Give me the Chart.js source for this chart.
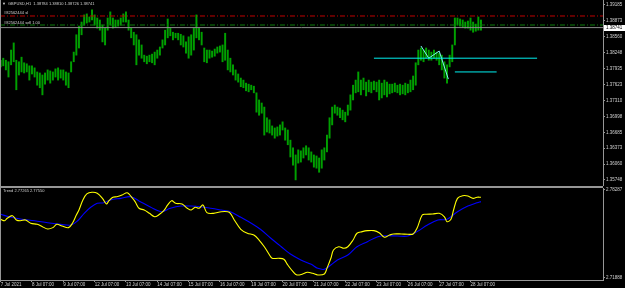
<!DOCTYPE html>
<html>
<head>
<meta charset="utf-8">
<script src="https://cdn.jsdelivr.net/npm/chart.js@4.4.1/dist/chart.umd.min.js"></script>
<style>
  html, body { margin: 0; padding: 0; background: #000; }
  #wrap { position: relative; width: 625px; height: 288px; overflow: hidden; background: #000; }
  canvas { position: absolute; left: 0; display: block; }
  #priceChart { top: 0; }
  #trendChart { top: 186px; }
</style>
</head>
<body>
<div id="wrap">
  <canvas id="priceChart" width="625" height="186"></canvas>
  <canvas id="trendChart" width="625" height="102"></canvas>
</div>
<script>
// GBPUSD H1, one range per 2 hours, starting 7 Jul 2021 07:00
const BAR_STEP_HOURS = 2;

const highs = [
  1.3810, 1.3814, 1.3810, 1.3807, 1.3830, 1.3844, 1.3810, 1.3807, 1.3816, 1.3805,
  1.3803, 1.3799, 1.3799, 1.3795, 1.3787, 1.3785, 1.3781, 1.3785, 1.3791, 1.3789,
  1.3787, 1.3793, 1.3795, 1.3791, 1.3791, 1.3787, 1.3785, 1.3807, 1.3826, 1.3860,
  1.3877, 1.3885, 1.3899, 1.3901, 1.3895, 1.3909, 1.3899, 1.3893, 1.3889, 1.3879,
  1.3873, 1.3893, 1.3905, 1.3893, 1.3889, 1.3889, 1.3893, 1.3901, 1.3905, 1.3889,
  1.3873, 1.3865, 1.3860, 1.3850, 1.3840, 1.3820, 1.3818, 1.3820, 1.3822, 1.3826,
  1.3830, 1.3836, 1.3850, 1.3869, 1.3891, 1.3873, 1.3865, 1.3863, 1.3863, 1.3861,
  1.3858, 1.3846, 1.3856, 1.3860, 1.3873, 1.3899, 1.3873, 1.3865, 1.3834, 1.3830,
  1.3830, 1.3828, 1.3832, 1.3836, 1.3838, 1.3840, 1.3863, 1.3830, 1.3814, 1.3801,
  1.3791, 1.3783, 1.3775, 1.3771, 1.3765, 1.3763, 1.3761, 1.3759, 1.3746, 1.3732,
  1.3726, 1.3718, 1.3697, 1.3693, 1.3681, 1.3677, 1.3679, 1.3683, 1.3689, 1.3677,
  1.3673, 1.3653, 1.3638, 1.3624, 1.3634, 1.3632, 1.3638, 1.3642, 1.3638, 1.3630,
  1.3624, 1.3622, 1.3618, 1.3634, 1.3638, 1.3663, 1.3697, 1.3718, 1.3722, 1.3718,
  1.3716, 1.3712, 1.3708, 1.3722, 1.3742, 1.3761, 1.3771, 1.3787, 1.3771, 1.3775,
  1.3767, 1.3771, 1.3767, 1.3769, 1.3767, 1.3771, 1.3765, 1.3771, 1.3767, 1.3763,
  1.3763, 1.3765, 1.3761, 1.3763, 1.3761, 1.3765, 1.3763, 1.3771, 1.3779, 1.3805,
  1.3830, 1.3834, 1.3830, 1.3834, 1.3830, 1.3826, 1.3830, 1.3826, 1.3824, 1.3820,
  1.3807, 1.3801, 1.3820, 1.3840, 1.3893, 1.3893, 1.3891, 1.3889, 1.3885, 1.3887,
  1.3893, 1.3885, 1.3881, 1.3895, 1.3889
];
const lows = [
  1.3797, 1.3799, 1.3791, 1.3777, 1.3801, 1.3807, 1.3752, 1.3781, 1.3787, 1.3785,
  1.3787, 1.3771, 1.3783, 1.3777, 1.3761, 1.3756, 1.3742, 1.3763, 1.3771, 1.3765,
  1.3771, 1.3777, 1.3771, 1.3775, 1.3771, 1.3761, 1.3756, 1.3787, 1.3807, 1.3820,
  1.3834, 1.3860, 1.3879, 1.3883, 1.3885, 1.3889, 1.3879, 1.3873, 1.3869, 1.3846,
  1.3840, 1.3869, 1.3879, 1.3873, 1.3875, 1.3877, 1.3879, 1.3885, 1.3885, 1.3869,
  1.3854, 1.3840, 1.3801, 1.3820, 1.3814, 1.3807, 1.3803, 1.3807, 1.3805, 1.3801,
  1.3814, 1.3820, 1.3834, 1.3840, 1.3854, 1.3858, 1.3850, 1.3854, 1.3850, 1.3840,
  1.3836, 1.3824, 1.3814, 1.3820, 1.3830, 1.3854, 1.3850, 1.3840, 1.3807, 1.3805,
  1.3814, 1.3816, 1.3818, 1.3824, 1.3826, 1.3807, 1.3810, 1.3791, 1.3787, 1.3781,
  1.3771, 1.3767, 1.3758, 1.3756, 1.3750, 1.3748, 1.3752, 1.3746, 1.3708, 1.3702,
  1.3706, 1.3663, 1.3669, 1.3667, 1.3663, 1.3657, 1.3661, 1.3663, 1.3673, 1.3653,
  1.3644, 1.3620, 1.3604, 1.3575, 1.3608, 1.3610, 1.3618, 1.3624, 1.3614, 1.3610,
  1.3600, 1.3598, 1.3590, 1.3598, 1.3614, 1.3630, 1.3657, 1.3683, 1.3706, 1.3702,
  1.3697, 1.3693, 1.3689, 1.3702, 1.3712, 1.3732, 1.3746, 1.3748, 1.3742, 1.3752,
  1.3740, 1.3748, 1.3746, 1.3752, 1.3748, 1.3732, 1.3736, 1.3742, 1.3738, 1.3744,
  1.3746, 1.3748, 1.3746, 1.3742, 1.3744, 1.3742, 1.3746, 1.3748, 1.3752, 1.3761,
  1.3801, 1.3810, 1.3807, 1.3814, 1.3810, 1.3810, 1.3814, 1.3810, 1.3801, 1.3791,
  1.3775, 1.3765, 1.3797, 1.3807, 1.3840, 1.3879, 1.3877, 1.3875, 1.3873, 1.3873,
  1.3869, 1.3865, 1.3867, 1.3869, 1.3869
];

// Trend indicator, two lines (hours since 7 Jul 07:00, value)
const yellowHours = [0, 3, 5, 9, 12, 15, 19, 23, 28, 32, 36, 40, 43, 47, 52, 55, 58, 60, 63, 66,
  70, 74, 78, 81, 83, 86, 89, 93, 97, 100, 103, 106, 110, 114, 118, 121, 125, 128, 131, 134,
  139, 143, 146, 149, 152, 155, 158, 163, 169, 174, 176, 179, 184, 189, 194, 198, 202, 206, 208, 213,
  217, 220, 224, 227, 231, 235, 239, 243, 248, 250, 253, 255, 259, 263, 266, 270, 273, 277, 281, 286,
  290, 294, 298, 301, 307, 312, 316, 319, 323, 326, 331, 336, 340, 342, 345, 347, 350, 354, 358, 362,
  365, 368];
const yellowValues = [2.7616, 2.7605, 2.7623, 2.7642, 2.7611, 2.7605, 2.7611, 2.7587, 2.7579, 2.7562,
  2.7545, 2.7555, 2.7579, 2.7567, 2.7555, 2.7587, 2.7647, 2.7683, 2.7756, 2.7800,
  2.7812, 2.7805, 2.7768, 2.7727, 2.7751, 2.7776, 2.7780, 2.7792, 2.7809, 2.7780,
  2.7744, 2.7696, 2.7683, 2.7659, 2.7634, 2.7647, 2.7678, 2.7720, 2.7751, 2.7732,
  2.7727, 2.7696, 2.7683, 2.7703, 2.7696, 2.7720, 2.7664, 2.7659, 2.7671, 2.7671,
  2.7659, 2.7611, 2.7543, 2.7514, 2.7501, 2.7465, 2.7416, 2.7356, 2.7332, 2.7332,
  2.7325, 2.7283, 2.7235, 2.7211, 2.7216, 2.7230, 2.7223, 2.7211, 2.7218, 2.7259,
  2.7332, 2.7392, 2.7416, 2.7405, 2.7416, 2.7465, 2.7514, 2.7526, 2.7533, 2.7533,
  2.7518, 2.7485, 2.7501, 2.7509, 2.7509, 2.7507, 2.7509, 2.7550, 2.7647, 2.7652,
  2.7654, 2.7659, 2.7634, 2.7598, 2.7616, 2.7683, 2.7768, 2.7787, 2.7785, 2.7768,
  2.7776, 2.7776];
const blueHours = [0, 8, 15, 26, 36, 46, 54, 59, 64, 69, 74, 79, 84, 92, 100, 107, 115, 123, 130, 138,
  146, 153, 161, 169, 176, 184, 192, 199, 207, 215, 222, 230, 238, 243, 248, 253, 258, 266, 273, 281,
  289, 296, 304, 312, 319, 327, 335, 342, 350, 358, 365, 368];
const blueValues = [2.7652, 2.7630, 2.7618, 2.7605, 2.7591, 2.7579, 2.7574, 2.7605, 2.7659, 2.7703,
  2.7732, 2.7736, 2.7756, 2.7768, 2.7780, 2.7744, 2.7703, 2.7671, 2.7696, 2.7712,
  2.7712, 2.7707, 2.7696, 2.7683, 2.7671, 2.7630, 2.7587, 2.7543, 2.7478, 2.7416,
  2.7363, 2.7320, 2.7288, 2.7259, 2.7252, 2.7283, 2.7320, 2.7356, 2.7416, 2.7453,
  2.7489, 2.7496, 2.7494, 2.7494, 2.7526, 2.7574, 2.7611, 2.7616, 2.7671, 2.7712,
  2.7736, 2.7744];

// objects on the chart: [hour, price]
const cyanLongLine = [[286, 1.3814], [411, 1.3814]];
const cyanShortLine = [[348, 1.3787], [380, 1.3787]];
const cyanZigzag = [[322, 1.3838], [328, 1.3814], [336, 1.3828], [343, 1.3773]];

const stopLossPrice = 1.38969;
const entryPrice = 1.38792;
const bidPrice = 1.38741;

// axes
const tickHours = [0, 24, 48, 72, 96, 120, 144, 168, 192, 216, 240, 264, 288, 312, 336, 360];
const timeLabels = ['7 Jul 2021', '8 Jul 07:00', '9 Jul 07:00', '12 Jul 07:00', '13 Jul 07:00',
  '14 Jul 07:00', '15 Jul 07:00', '16 Jul 07:00', '19 Jul 07:00', '20 Jul 07:00', '21 Jul 07:00',
  '22 Jul 07:00', '23 Jul 07:00', '26 Jul 07:00', '27 Jul 07:00', '28 Jul 07:00'];
const priceTicks = [1.39185, 1.38873, 1.38560, 1.38248, 1.37935, 1.37623, 1.37310,
  1.36998, 1.36685, 1.36373, 1.36060, 1.35748];
const trendTicks = [2.78287, 2.71888];

const HOUR_MIN = -0.5, HOUR_MAX = 461.5;
const PRICE_MIN = 1.35630, PRICE_MAX = 1.39283;
const TREND_MIN = 2.71742, TREND_MAX = 2.78432;

const FRAME = '#969696';
const TEXT = '#d0d0d0';
const FONT = '"Liberation Sans", "DejaVu Sans", sans-serif';

const toPoints = pairs => pairs.map(p => ({ x: p[0], y: p[1] }));

function hLine(price, color, dash) {
  return {
    type: 'line',
    data: [{ x: HOUR_MIN, y: price }, { x: HOUR_MAX, y: price }],
    borderColor: color, borderWidth: 1, borderDash: dash || [],
    pointRadius: 0, order: 0
  };
}
function objLine(pairs, color) {
  return {
    type: 'line', data: toPoints(pairs), borderColor: color, borderWidth: 1,
    pointRadius: 0, tension: 0, order: 0
  };
}

const mainDecor = {
  id: 'mainDecor',
  afterDraw(chart) {
    const { ctx, chartArea: a } = chart;
    const y = chart.scales.y;
    ctx.save();
    ctx.fillStyle = FRAME;
    ctx.fillRect(0, 0, 1, a.bottom);

    ctx.fillStyle = TEXT;
    ctx.textBaseline = 'middle';
    ctx.font = '4px ' + FONT;
    ctx.fillText('\u25BC', 2, 4);
    ctx.fillText('GBPUSD,H1  1.38784 1.38810 1.38726 1.38741', 8, 4);
    ctx.fillText('#82562444 sl', 4, 13);
    ctx.fillText('#82562444 sell 1.00', 4, 22.5);

    const py = y.getPixelForValue(bidPrice);
    ctx.fillStyle = '#ffffff';
    ctx.fillRect(a.right + 1, Math.round(py) - 3, 21, 6);
    ctx.fillStyle = '#000000';
    ctx.font = '4.5px ' + FONT;
    ctx.fillText(bidPrice.toFixed(5), a.right + 3, Math.round(py));
    ctx.restore();
  }
};

const trendDecor = {
  id: 'trendDecor',
  afterDraw(chart) {
    const { ctx, chartArea: a } = chart;
    ctx.save();
    ctx.fillStyle = FRAME;
    ctx.fillRect(0, 0, a.right, 2);
    ctx.fillRect(0, 0, 1, a.bottom);
    ctx.fillStyle = TEXT;
    ctx.textBaseline = 'middle';
    ctx.font = '4px ' + FONT;
    ctx.fillText('Trend 2.77265 2.77550', 3, 5);
    ctx.restore();
  }
};

const yAxisCommon = {
  position: 'right',
  grid: { drawOnChartArea: false, tickLength: 2, color: FRAME },
  border: { display: true, color: FRAME },
  ticks: { color: TEXT, font: { size: 4.5, family: FONT }, padding: 1, callback: v => v.toFixed(5) }
};

new Chart(document.getElementById('priceChart'), {
  type: 'bar',
  data: {
    datasets: [
      {
        type: 'bar',
        data: highs.map((h, i) => ({ x: i * BAR_STEP_HOURS, y: [lows[i], h] })),
        backgroundColor: '#00a000', borderWidth: 0, barThickness: 1.3, order: 2
      },
      hLine(stopLossPrice, '#c00000', [5, 2, 1, 2]),
      hLine(entryPrice, '#0a7a0a', [5, 2, 1, 2]),
      hLine(bidPrice, '#8c8c8c'),
      objLine(cyanLongLine, '#00f0f0'),
      objLine(cyanShortLine, '#00f0f0'),
      objLine(cyanZigzag, '#7ff5f5')
    ]
  },
  options: {
    responsive: false, animation: false, events: [], devicePixelRatio: 1,
    layout: { padding: 0 },
    plugins: { legend: { display: false }, tooltip: { enabled: false } },
    scales: {
      x: { type: 'linear', display: false, min: HOUR_MIN, max: HOUR_MAX, offset: false },
      y: Object.assign({}, yAxisCommon, {
        min: PRICE_MIN, max: PRICE_MAX,
        afterBuildTicks: s => { s.ticks = priceTicks.map(v => ({ value: v })); },
        afterFit: s => { s.width = 22; s.paddingTop = 0; s.paddingBottom = 0; }
      })
    }
  },
  plugins: [mainDecor]
});

new Chart(document.getElementById('trendChart'), {
  type: 'line',
  data: {
    datasets: [
      {
        data: yellowHours.map((h, i) => ({ x: h, y: yellowValues[i] })),
        borderColor: '#ffff00', borderWidth: 1.1, pointRadius: 0, tension: 0.35
      },
      {
        data: blueHours.map((h, i) => ({ x: h, y: blueValues[i] })),
        borderColor: '#0000ff', borderWidth: 1.1, pointRadius: 0, tension: 0.35
      }
    ]
  },
  options: {
    responsive: false, animation: false, events: [], devicePixelRatio: 1,
    layout: { padding: { top: 2, left: 0, right: 0, bottom: 0 } },
    plugins: { legend: { display: false }, tooltip: { enabled: false } },
    scales: {
      x: {
        type: 'linear', min: HOUR_MIN, max: HOUR_MAX, offset: false,
        afterBuildTicks: s => { s.ticks = tickHours.map(v => ({ value: v })); },
        afterFit: s => { s.height = 8; s.paddingLeft = 0; s.paddingRight = 0; },
        grid: { drawOnChartArea: false, tickLength: 2, color: FRAME },
        border: { display: true, color: FRAME },
        ticks: {
          color: TEXT, font: { size: 4.5, family: FONT }, padding: 0,
          align: 'start', maxRotation: 0, autoSkip: false,
          callback: (v, i) => timeLabels[i]
        }
      },
      y: Object.assign({}, yAxisCommon, {
        min: TREND_MIN, max: TREND_MAX,
        afterBuildTicks: s => { s.ticks = trendTicks.map(v => ({ value: v })); },
        afterFit: s => { s.width = 22; s.paddingTop = 0; s.paddingBottom = 0; }
      })
    }
  },
  plugins: [trendDecor]
});
</script>
</body>
</html>
